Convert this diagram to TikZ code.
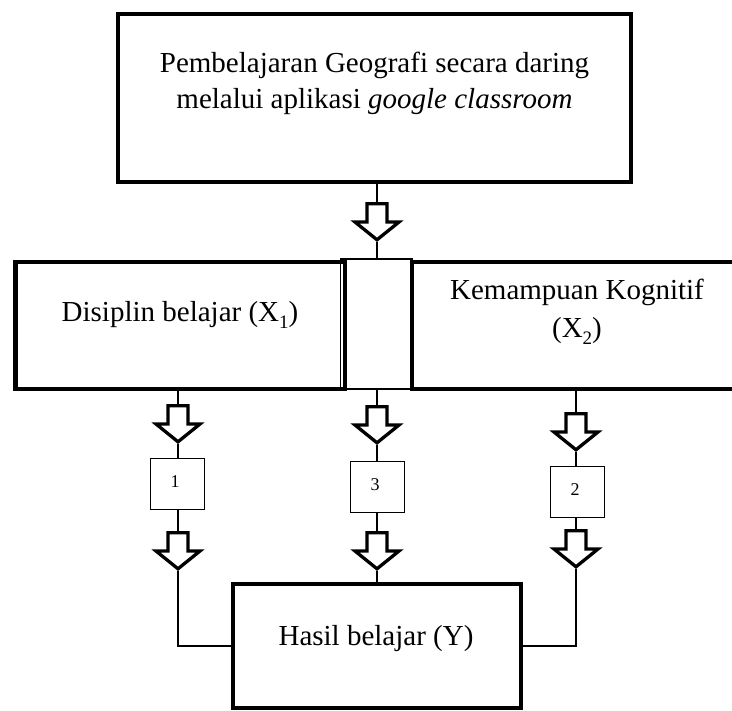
\documentclass[tikz,border=0pt]{standalone}
\usepackage{fontspec}
\setmainfont{Liberation Serif}
\newcommand{\mysub}[1]{\raisebox{-0.22em}{\fontsize{19}{19}\selectfont #1}}
\begin{document}
\begin{tikzpicture}[x=1pt,y=-1pt,
  bigbox/.style={draw, line width=4.5pt, inner sep=0pt, outer sep=0pt},
  thinbox/.style={draw, line width=1.3pt, inner sep=0pt, outer sep=0pt},
  numbox/.style={draw, line width=1pt, inner sep=0pt, outer sep=0pt, minimum width=54pt, minimum height=51pt},
  bigtext/.style={font=\fontsize{29}{36}\selectfont, inner sep=0pt, anchor=base},
  numtext/.style={font=\fontsize{18}{20}\selectfont, inner sep=0pt, anchor=base},
  conn/.style={line width=1.5pt},
  blockarrow/.pic={
    \draw[line width=3.3pt, fill=white, line join=miter]
      (-10,1.7) -- (10,1.7) -- (10,20) -- (22,20) -- (0,37.8) -- (-22,20) -- (-10,20) -- cycle;
    \coordinate (-in) at (0,0);
    \coordinate (-out) at (0,40);
  }]
\useasboundingbox (0,0) rectangle (732,711);
\begin{scope}
\clip (0,0) rectangle (732,711);
% boxes
\node[bigbox, minimum width=513pt, minimum height=168pt] (top) at (374.5,98) {};
\node[thinbox, minimum width=72pt, minimum height=130pt] (mid) at (376.5,324) {};
\node[bigbox, minimum width=329.5pt, minimum height=127pt] (xone) at (180.25,325.5) {};
\node[bigbox, minimum width=330pt, minimum height=127pt] (xtwo) at (577,325.5) {};
\node[bigbox, minimum width=288pt, minimum height=124pt] (hasil) at (377,646) {};
\node[numbox] (n1) at (177,484.5) {};
\node[numbox] (n3) at (377,487) {};
\node[numbox] (n2) at (577,492) {};
% texts
\node[bigtext] (t1) at (374.5,73) {Pembelajaran Geografi secara daring};
\node[bigtext] (t2) at (374.5,109) {melalui aplikasi \textit{google classroom}};
\node[bigtext] (t3) at (180,322) {Disiplin belajar (X\mysub{1})};
\node[bigtext] (t4) at (577,300) {Kemampuan Kognitif};
\node[bigtext] (t5) at (577,338) {(X\mysub{2})};
\node[bigtext] (t6) at (376,645) {Hasil belajar (Y)};
\node[numtext] (l1) at (175,488) {1};
\node[numtext] (l3) at (375,491) {3};
\node[numtext] (l2) at (575,496) {2};
% arrows
\pic (a0) at (377,202) {blockarrow};
\pic (a1) at (178,404) {blockarrow};
\pic (a3) at (377,405) {blockarrow};
\pic (a2) at (576,412) {blockarrow};
\pic (b1) at (178,531) {blockarrow};
\pic (b3) at (377,531) {blockarrow};
\pic (b2) at (576,529) {blockarrow};
% connectors
\draw[conn] (top.south -| a0-in) -- (a0-in);
\draw[conn] (a0-out) -- (mid.north -| a0-out);
\draw[conn] (xone.south -| a1-in) -- (a1-in);
\draw[conn] (a1-out) -- (n1.north -| a1-out);
\draw[conn] (n1.south -| b1-in) -- (b1-in);
\draw[conn] (b1-out) |- (hasil.west);
\draw[conn] (mid.south -| a3-in) -- (a3-in);
\draw[conn] (a3-out) -- (n3.north);
\draw[conn] (n3.south) -- (b3-in);
\draw[conn] (b3-out) -- (hasil.north);
\draw[conn] (xtwo.south -| a2-in) -- (a2-in);
\draw[conn] (a2-out) -- (n2.north -| a2-out);
\draw[conn] (n2.south -| b2-in) -- (b2-in);
\draw[conn] (b2-out) |- (hasil.east);
\end{scope}
\end{tikzpicture}
\end{document}
